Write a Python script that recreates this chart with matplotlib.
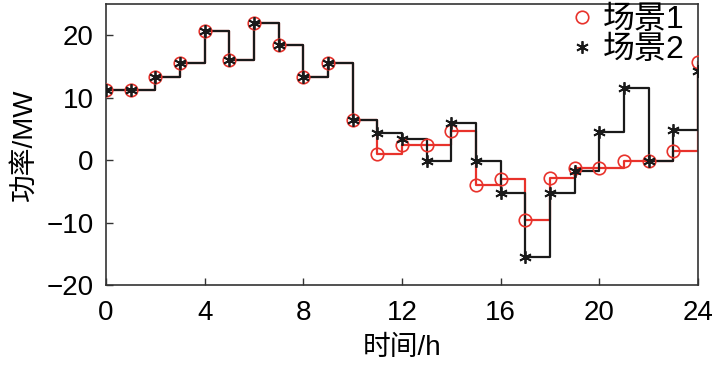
import numpy as np
import matplotlib
matplotlib.use("Agg")
from matplotlib import pyplot as plt

plt.rcParams['font.family'] = ['Liberation Sans', 'Noto Sans CJK SC']

hours = list(range(25))
scene1 = [11.3, 11.3, 13.4, 15.5, 20.7, 16.0, 22.0, 18.5, 13.4, 15.5, 6.4,
          1.0, 2.5, 2.4, 4.6, -4.0, -3.0, -9.6, -2.8, -1.2, -1.3, -0.1,
          -0.2, 1.4, 15.7]
scene2 = [11.3, 11.3, 13.4, 15.5, 20.7, 16.0, 22.0, 18.5, 13.4, 15.5, 6.4,
          4.4, 3.4, -0.2, 5.9, -0.2, -5.3, -15.5, -5.2, -1.8, 4.5, 11.6,
          -0.2, 4.9, 14.3]
xticks = [0, 4, 8, 12, 16, 20, 24]
yticks = [-20, -10, 0, 10, 20]

fig = plt.figure(figsize=(7.21, 3.67), dpi=100)
ax = fig.add_axes([0.147, 0.223, 0.821, 0.766])

red = '#e8322b'
ax.step(hours, scene1, where='post', color=red, lw=1.6, zorder=2)
ax.step(hours, scene2, where='post', color='#1a1a1a', lw=1.6, zorder=3)
ax.plot(hours, scene1, ls='none', marker='o', mfc='none', mec=red, ms=9,
        mew=1.2, label='场景1', zorder=4)
ax.plot(hours, scene2, ls='none', marker=(6, 2, 0), color='#1a1a1a', ms=9,
        mew=1.3, label='场景2', zorder=5)

ax.set_xlim(0, 24)
ax.set_ylim(-20, 25)
ax.set_xticks(xticks)
ax.set_yticks(yticks)
ax.set_yticklabels(['\u221220', '\u221210', '0', '10', '20'])
ax.tick_params(direction='in', labelsize=20, length=5, width=1, colors='#333333',
               labelcolor='black')
ax.tick_params(axis='x', pad=11)
ax.tick_params(axis='y', pad=9)
for sp in ax.spines.values():
    sp.set_color('#333333')
    sp.set_linewidth(1.2)

ax.set_xlabel('时间/h', fontsize=20, labelpad=6)
ax.set_ylabel('功率/MW', fontsize=20, labelpad=6)

leg = ax.legend(loc='upper right', bbox_to_anchor=(0.978, 0.995), frameon=False,
                fontsize=23, handlelength=0.5, handletextpad=0.4,
                borderaxespad=0.0, labelspacing=0.0, borderpad=0.0)

fig.savefig('out.png', dpi=100)
